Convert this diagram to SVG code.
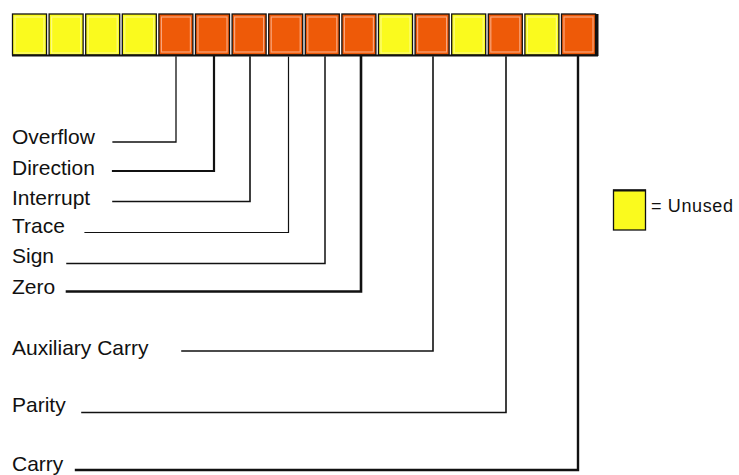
<svg xmlns="http://www.w3.org/2000/svg" width="739" height="475" viewBox="0 0 739 475">
<style>
.cell{stroke:#111;stroke-width:1.3}
.y{fill:#FAFA1E}
.o{fill:#EE5A08}
.inO{fill:none;stroke:#F8A57C;stroke-width:1.2}
.inY{fill:none;stroke:#FCFC80;stroke-width:1.2}
.lbl{font-family:"Liberation Sans",Arial,sans-serif;font-size:21px;fill:#111}
.leg{font-family:"Liberation Sans",Arial,sans-serif;font-size:18px;fill:#111}
.c{fill:none;stroke:#111;stroke-linecap:square}
</style>
<rect width="739" height="475" fill="#fff"/>
<g id="register">
<rect class="cell y" x="12.5" y="14" width="34" height="41"/>
<rect class="cell y" x="49.1" y="14" width="34" height="41"/>
<rect class="cell y" x="85.7" y="14" width="34" height="41"/>
<rect class="cell y" x="122.3" y="14" width="34" height="41"/>
<rect class="cell o" x="158.9" y="14" width="34" height="41"/>
<rect class="cell o" x="195.5" y="14" width="34" height="41"/>
<rect class="cell o" x="232.1" y="14" width="34" height="41"/>
<rect class="cell o" x="268.7" y="14" width="34" height="41"/>
<rect class="cell o" x="305.3" y="14" width="34" height="41"/>
<rect class="cell o" x="341.9" y="14" width="34" height="41"/>
<rect class="cell y" x="378.5" y="14" width="34" height="41"/>
<rect class="cell o" x="415.1" y="14" width="34" height="41"/>
<rect class="cell y" x="451.7" y="14" width="34" height="41"/>
<rect class="cell o" x="488.3" y="14" width="34" height="41"/>
<rect class="cell y" x="524.9" y="14" width="34" height="41"/>
<rect class="cell o" x="561.5" y="14" width="34" height="41"/>
<rect class="inY" x="15" y="17" width="29" height="36"/>
<rect class="inY" x="51.6" y="17" width="29" height="36"/>
<rect class="inY" x="88.2" y="17" width="29" height="36"/>
<rect class="inY" x="124.8" y="17" width="29" height="36"/>
<rect class="inO" x="161.4" y="17" width="29" height="35"/>
<rect class="inO" x="198" y="17" width="29" height="35"/>
<rect class="inO" x="234.6" y="17" width="29" height="35"/>
<rect class="inO" x="271.2" y="17" width="29" height="35"/>
<rect class="inO" x="307.8" y="17" width="29" height="35"/>
<rect class="inO" x="344.4" y="17" width="29" height="35"/>
<rect class="inY" x="381" y="17" width="29" height="36"/>
<rect class="inO" x="417.6" y="17" width="29" height="35"/>
<rect class="inY" x="454.2" y="17" width="29" height="36"/>
<rect class="inO" x="490.8" y="17" width="29" height="35"/>
<rect class="inY" x="527.4" y="17" width="29" height="36"/>
<rect class="inO" x="564" y="17" width="29" height="35"/>
<line x1="12" y1="55.5" x2="598" y2="55.5" stroke="#111" stroke-width="2.2"/>
<line x1="597" y1="14" x2="597" y2="56" stroke="#111" stroke-width="3"/>
</g>
<g id="connectors">
<polyline class="c" stroke-width="1.3" points="113,142 176,142 176,57"/>
<polyline class="c" stroke-width="2.2" points="113,171 214,171 214,57"/>
<polyline class="c" stroke-width="1.6" points="113,201.5 250,201.5 250,57"/>
<polyline class="c" stroke-width="1.2" points="85,232.5 288.5,232.5 288.5,57"/>
<polyline class="c" stroke-width="1.5" points="67,263.5 325,263.5 325,57"/>
<polyline class="c" stroke-width="2.6" points="67,291.5 361,291.5 361,57"/>
<polyline class="c" stroke-width="1.6" points="182,351 433,351 433,57"/>
<polyline class="c" stroke-width="1.6" points="82,412.5 506,412.5 506,57"/>
<polyline class="c" stroke-width="2.4" points="76,470 578,470 578,57"/>
</g>
<g id="labels">
<text class="lbl" x="12" y="144">Overflow</text>
<text class="lbl" x="12" y="175">Direction</text>
<text class="lbl" x="12" y="205">Interrupt</text>
<text class="lbl" x="12" y="233">Trace</text>
<text class="lbl" x="12" y="263">Sign</text>
<text class="lbl" x="12" y="294">Zero</text>
<text class="lbl" x="12" y="355">Auxiliary Carry</text>
<text class="lbl" x="12" y="412">Parity</text>
<text class="lbl" x="12" y="471">Carry</text>
</g>
<g id="legend">
<rect x="613.5" y="190" width="32" height="40" fill="#FAFA1E" stroke="#111" stroke-width="1.3"/>
<line x1="613" y1="190.5" x2="646" y2="190.5" stroke="#111" stroke-width="2"/>
<text class="leg" x="651" y="212" textLength="82" lengthAdjust="spacing">= Unused</text>
</g>
</svg>
